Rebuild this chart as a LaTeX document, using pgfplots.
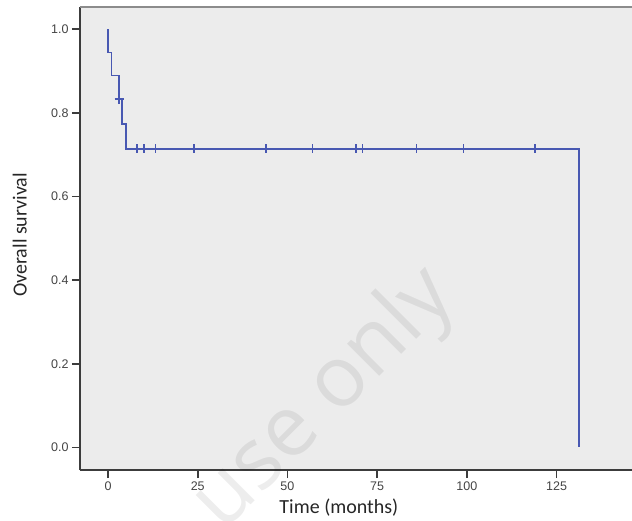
\documentclass[border=0pt]{standalone}
\usepackage{fontspec}
\setmainfont{Carlito}
\newfontfamily\tickfont{Liberation Sans}
\newfontfamily\wmfont{Open Sans}
\usepackage{pgfplots}
\pgfplotsset{compat=1.18}

\definecolor{bggray}{RGB}{236,236,236}
\definecolor{axisgray}{RGB}{60,60,60}
\definecolor{topgray}{RGB}{140,140,140}
\definecolor{ticktext}{RGB}{68,68,68}
\definecolor{kmblue}{RGB}{72,88,178}

\begin{document}
\begin{tikzpicture}
\useasboundingbox (-80pt,-50pt) rectangle (552pt,470pt);
\begin{axis}[
  scale only axis,
  width=552pt, height=463pt,
  xmin=-7.8, xmax=146,
  ymin=-0.054, ymax=1.053,
  axis x line*=bottom, axis y line*=left,
  axis line style={-, draw=axisgray, line width=1.6pt},
  axis background/.style={fill=bggray},
  tick align=outside,
  major tick length=8pt,
  tick style={draw=axisgray, line width=1.6pt},
  xtick={0,25,50,75,100,125},
  ytick={0,0.2,0.4,0.6,0.8,1},
  /pgf/number format/assume math mode=true,
  tick label style={font=\tickfont\fontsize{12.5}{12.5}\selectfont, text=ticktext},
  yticklabel style={/pgf/number format/.cd, fixed, fixed zerofill, precision=1},
  xlabel={Time (months)},
  ylabel={Overall survival},
  every axis x label/.style={at={(axis description cs:0.469,-0.082)}, anchor=center,
    font=\fontsize{20}{20}\selectfont, text=black!85},
  every axis y label/.style={at={(axis description cs:-0.109,0.508)}, rotate=90, anchor=center,
    font=\fontsize{20}{20}\selectfont, text=black!85},
  clip=false,
]
% Kaplan-Meier step curve
\addplot[kmblue, line width=1.8pt, mark=none] coordinates {
  (0,1) (0,0.944) (1,0.944) (1,0.889) (3.1,0.889) (3.1,0.833)
  (3.9,0.833) (3.9,0.774) (5.1,0.774) (5.1,0.714) (131.3,0.714) (131.3,0)
};
% censored cases
\addplot[kmblue, only marks, mark=+, mark size=4.5pt, line width=1.6pt] coordinates {
  (3.1,0.833)
  (8.1,0.714) (10.1,0.714) (13.2,0.714) (24.0,0.714) (44.0,0.714)
  (57.0,0.714) (69.1,0.714) (70.9,0.714) (86.0,0.714) (99.1,0.714) (119.0,0.714)
};
\draw[draw=topgray, line width=1.8pt] (rel axis cs:0,1) -- (rel axis cs:1,1);
\end{axis}
% watermark
\node[rotate=45, text=black, text opacity=0.07, font=\wmfont\fontsize{85}{85}\selectfont]
  at (245pt,70pt) {use only};
\end{tikzpicture}
\end{document}
